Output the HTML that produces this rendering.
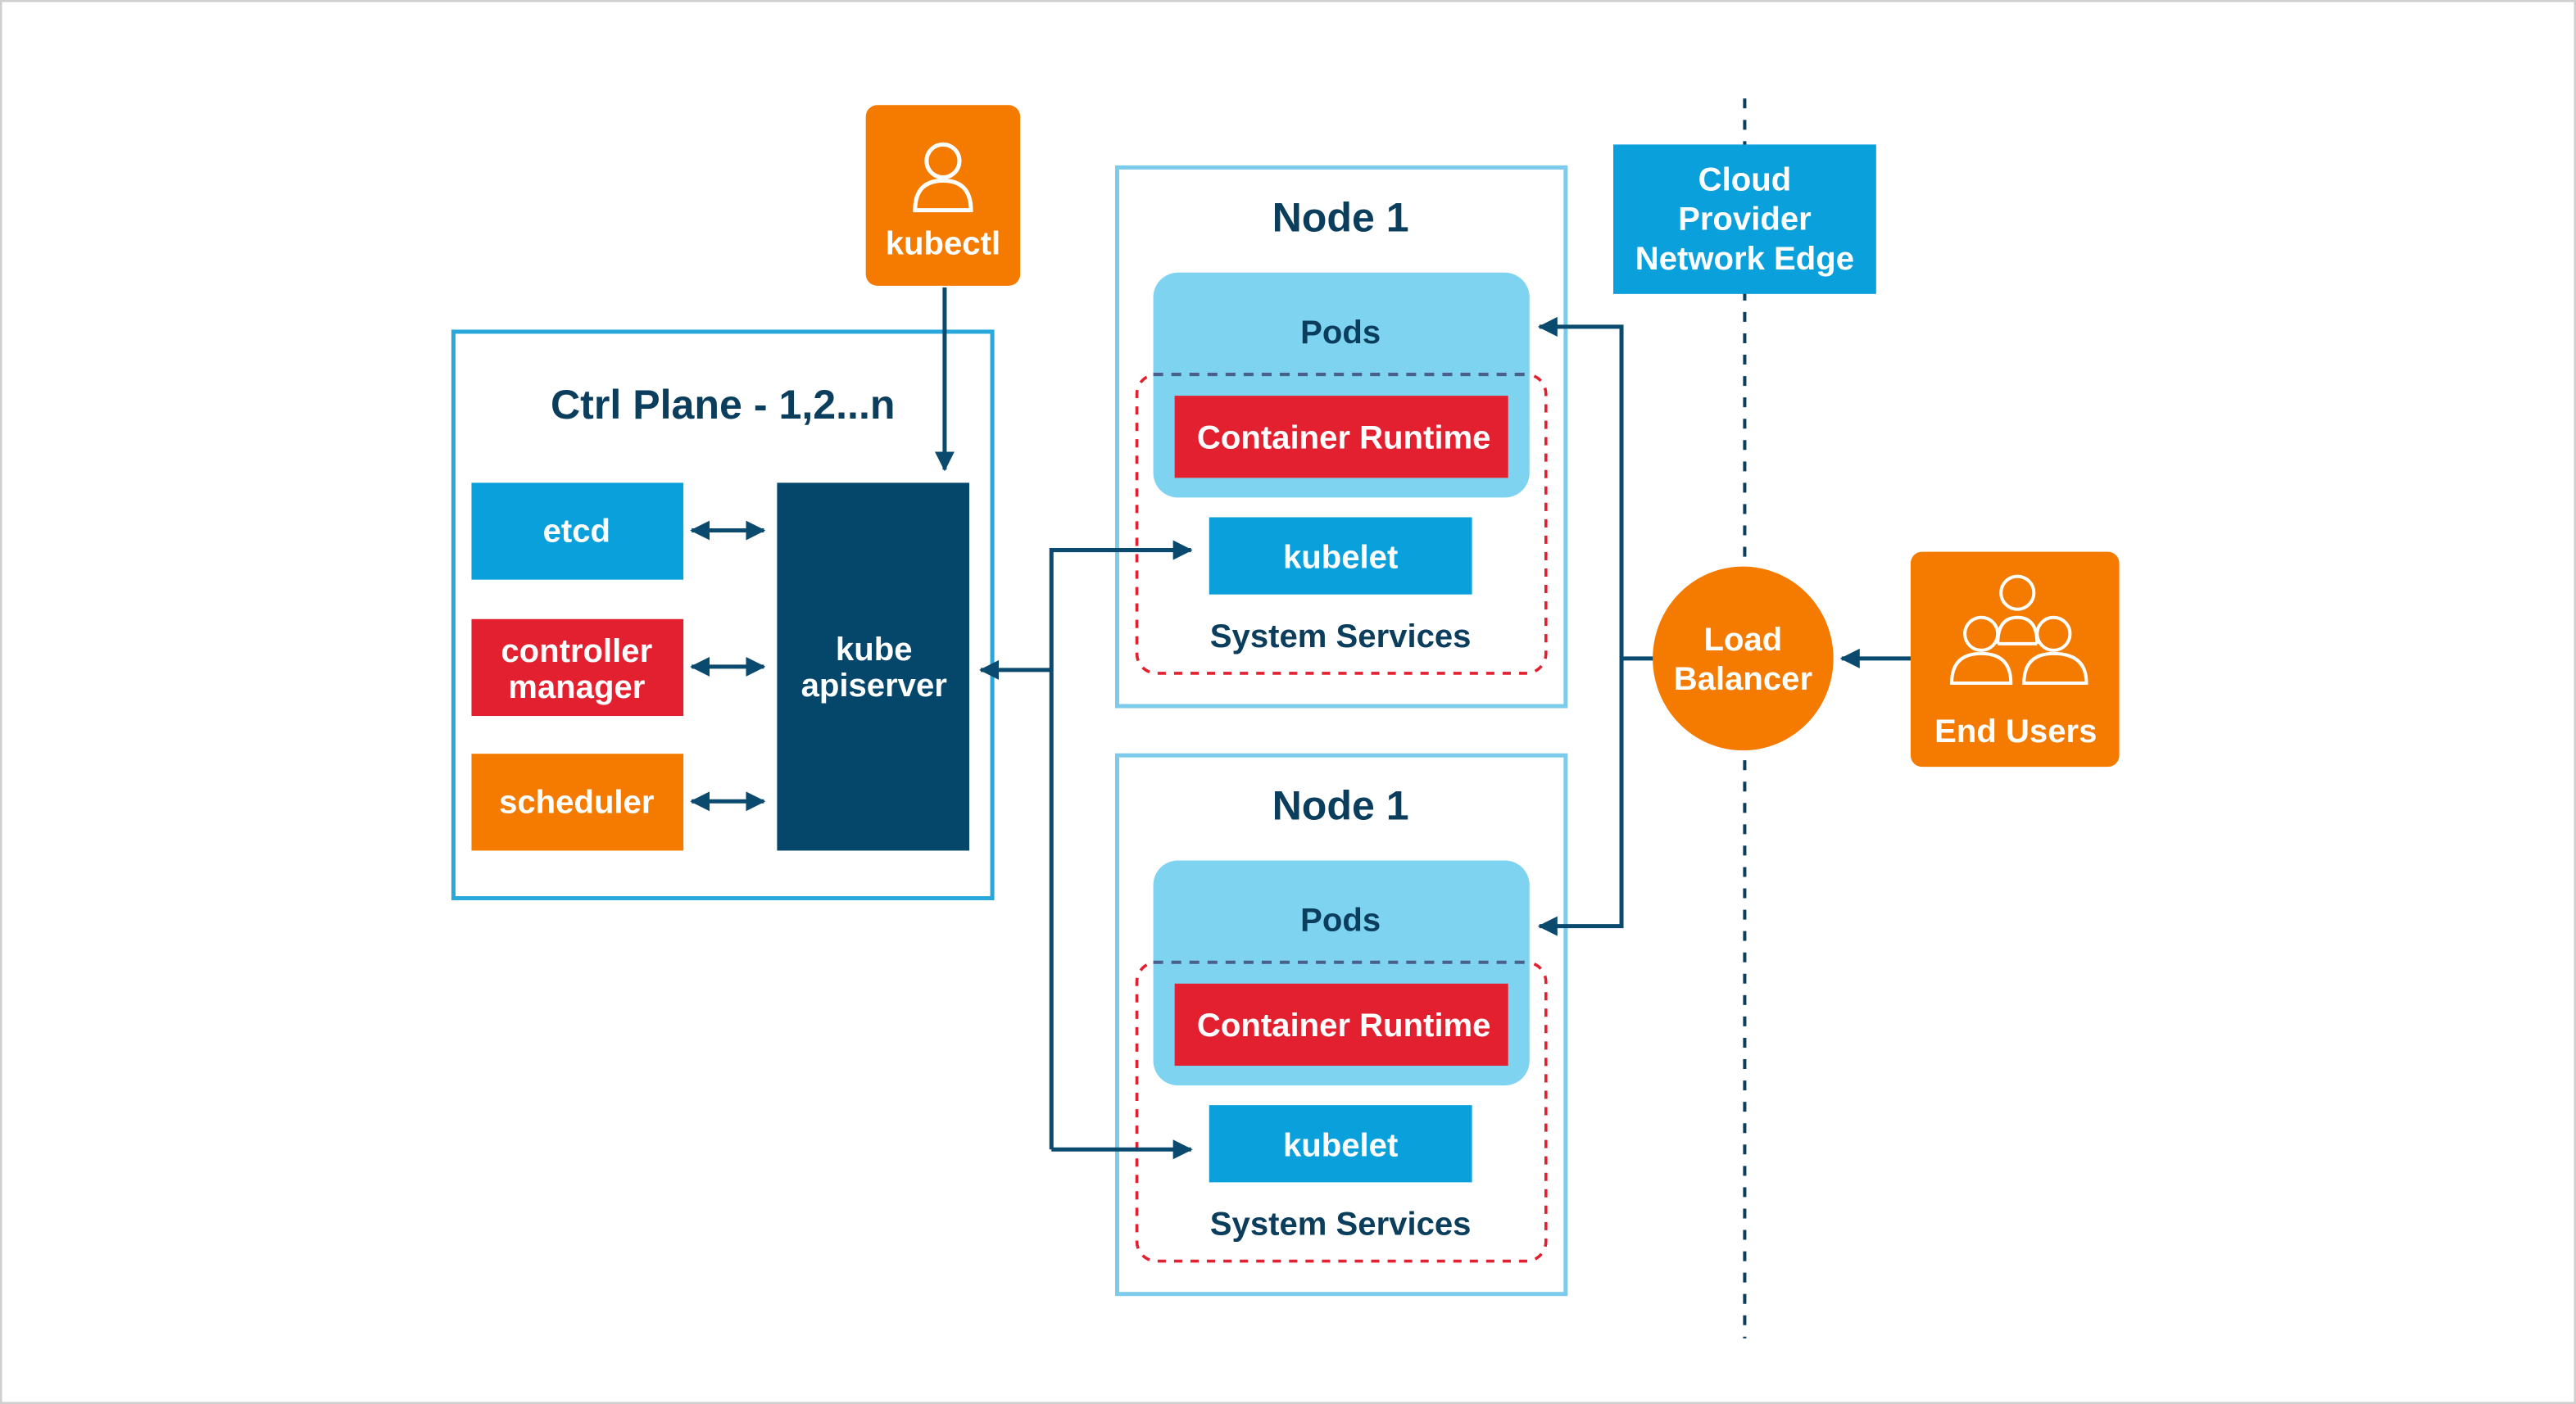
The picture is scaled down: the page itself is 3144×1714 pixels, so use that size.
<!DOCTYPE html>
<html><head><meta charset="utf-8"><style>
html,body{margin:0;padding:0;background:#fff;}
svg{display:block;}
text{font-family:"Liberation Sans",sans-serif;font-weight:bold;text-anchor:middle;}
</style></head><body>
<svg width="3144" height="1714" viewBox="0 0 1568 855" preserveAspectRatio="none" xmlns="http://www.w3.org/2000/svg">
<defs>
<marker id="ah" markerWidth="12" markerHeight="12" refX="11" refY="6" orient="auto" markerUnits="userSpaceOnUse"><path d="M0,0 L12,6 L0,12 Z" fill="#0B4A6F"/></marker>
<marker id="as" markerWidth="12" markerHeight="12" refX="11" refY="6" orient="auto-start-reverse" markerUnits="userSpaceOnUse"><path d="M0,0 L12,6 L0,12 Z" fill="#0B4A6F"/></marker>
</defs>
<rect x="0.5" y="0.5" width="1567" height="854" fill="#fff" stroke="#cfcfcf" stroke-width="1.5"/>

<line x1="1062" y1="60" x2="1062" y2="815" stroke="#0B3D5C" stroke-width="2" stroke-dasharray="6,7"/>

<rect x="276" y="202" width="328" height="345" fill="#fff" stroke="#29A8DC" stroke-width="2.5"/>
<text x="440" y="255" font-size="25" fill="#0B3D5C">Ctrl Plane - 1,2...n</text>
<rect x="287" y="294" width="129" height="59" fill="#0AA0DC"/>
<text x="351" y="330" font-size="20" fill="#fff">etcd</text>
<rect x="287" y="377" width="129" height="59" fill="#E3202F"/>
<text x="351" y="403" font-size="20" fill="#fff">controller</text>
<text x="351" y="425" font-size="20" fill="#fff">manager</text>
<rect x="287" y="459" width="129" height="59" fill="#F47B00"/>
<text x="351" y="495" font-size="20" fill="#fff">scheduler</text>
<line x1="421" y1="323" x2="465" y2="323" stroke="#0B4A6F" stroke-width="2.5" marker-start="url(#as)" marker-end="url(#ah)"/>
<line x1="421" y1="406" x2="465" y2="406" stroke="#0B4A6F" stroke-width="2.5" marker-start="url(#as)" marker-end="url(#ah)"/>
<line x1="421" y1="488" x2="465" y2="488" stroke="#0B4A6F" stroke-width="2.5" marker-start="url(#as)" marker-end="url(#ah)"/>
<rect x="473" y="294" width="117" height="224" fill="#05466B"/>
<text x="532" y="402" font-size="20" fill="#fff">kube</text>
<text x="532" y="424" font-size="20" fill="#fff">apiserver</text>

<rect x="527" y="64" width="94" height="110" rx="7" fill="#F47B00"/>
<circle cx="574" cy="98" r="10" fill="none" stroke="#fff" stroke-width="2.5"/>
<path d="M557,128 Q557,110 574,110 Q591,110 591,128 Z" fill="none" stroke="#fff" stroke-width="2.5"/>
<text x="574" y="155" font-size="20" fill="#fff">kubectl</text>
<line x1="575" y1="175" x2="575" y2="286" stroke="#0B4A6F" stroke-width="2.5" marker-end="url(#ah)"/>

<g>
<rect x="680" y="102" width="273" height="328" fill="#fff" stroke="#7CCBEA" stroke-width="2.5"/>
<text x="816" y="141" font-size="25" fill="#0B3D5C">Node 1</text>
<rect x="692" y="228" width="249" height="182" rx="12" fill="none" stroke="#E3202F" stroke-width="1.8" stroke-dasharray="5,5"/>
<rect x="702" y="166" width="229" height="137" rx="15" fill="#7DD3F0"/>
<text x="816" y="209" font-size="20" fill="#0B3D5C">Pods</text>
<line x1="702" y1="228" x2="931" y2="228" stroke="#4A5F8A" stroke-width="2" stroke-dasharray="6,5"/>
<rect x="715" y="241" width="203" height="50" fill="#E3202F"/>
<text x="818" y="273" font-size="20" fill="#fff">Container Runtime</text>
<rect x="736" y="315" width="160" height="47" fill="#0AA0DC"/>
<text x="816" y="346" font-size="20" fill="#fff">kubelet</text>
<text x="816" y="394" font-size="20" fill="#0B3D5C">System Services</text>
</g>
<g transform="translate(0,358)">
<rect x="680" y="102" width="273" height="328" fill="#fff" stroke="#7CCBEA" stroke-width="2.5"/>
<text x="816" y="141" font-size="25" fill="#0B3D5C">Node 1</text>
<rect x="692" y="228" width="249" height="182" rx="12" fill="none" stroke="#E3202F" stroke-width="1.8" stroke-dasharray="5,5"/>
<rect x="702" y="166" width="229" height="137" rx="15" fill="#7DD3F0"/>
<text x="816" y="209" font-size="20" fill="#0B3D5C">Pods</text>
<line x1="702" y1="228" x2="931" y2="228" stroke="#4A5F8A" stroke-width="2" stroke-dasharray="6,5"/>
<rect x="715" y="241" width="203" height="50" fill="#E3202F"/>
<text x="818" y="273" font-size="20" fill="#fff">Container Runtime</text>
<rect x="736" y="315" width="160" height="47" fill="#0AA0DC"/>
<text x="816" y="346" font-size="20" fill="#fff">kubelet</text>
<text x="816" y="394" font-size="20" fill="#0B3D5C">System Services</text>
</g>

<line x1="640" y1="408" x2="597" y2="408" stroke="#0B4A6F" stroke-width="2.5" marker-end="url(#ah)"/>
<polyline points="640,700 640,335 725,335" fill="none" stroke="#0B4A6F" stroke-width="2.5" marker-end="url(#ah)"/>
<line x1="640" y1="700" x2="725" y2="700" stroke="#0B4A6F" stroke-width="2.5" marker-end="url(#ah)"/>

<polyline points="987,401 987,199 937,199" fill="none" stroke="#0B4A6F" stroke-width="2.5" marker-end="url(#ah)"/>
<polyline points="1007,401 987,401 987,564 937,564" fill="none" stroke="#0B4A6F" stroke-width="2.5" marker-end="url(#ah)"/>

<rect x="982" y="88" width="160" height="91" fill="#0AA0DC"/>
<text x="1062" y="116" font-size="20" fill="#fff">Cloud</text>
<text x="1062" y="140" font-size="20" fill="#fff">Provider</text>
<text x="1062" y="164" font-size="20" fill="#fff">Network Edge</text>

<ellipse cx="1061" cy="401" rx="55" ry="56" fill="#F47B00"/>
<text x="1061" y="396" font-size="20" fill="#fff">Load</text>
<text x="1061" y="420" font-size="20" fill="#fff">Balancer</text>

<rect x="1163" y="336" width="127" height="131" rx="7" fill="#F47B00"/>
<line x1="1163" y1="401" x2="1121" y2="401" stroke="#0B4A6F" stroke-width="2.5" marker-end="url(#ah)"/>
<g fill="none" stroke="#fff" stroke-width="2">
<circle cx="1228" cy="361" r="10"/>
<path d="M1216,392 Q1216,376 1228,376 Q1240,376 1240,392"/>
<line x1="1216" y1="392" x2="1240" y2="392"/>
<circle cx="1206" cy="386" r="10"/>
<path d="M1188,416 Q1188,398 1206,398 Q1224,398 1224,416 Z"/>
<circle cx="1250" cy="386" r="10"/>
<path d="M1232,416 Q1232,398 1250,398 Q1270,398 1270,416 Z"/>
</g>
<text x="1227" y="452" font-size="20" fill="#fff">End Users</text>
</svg>
</body></html>
